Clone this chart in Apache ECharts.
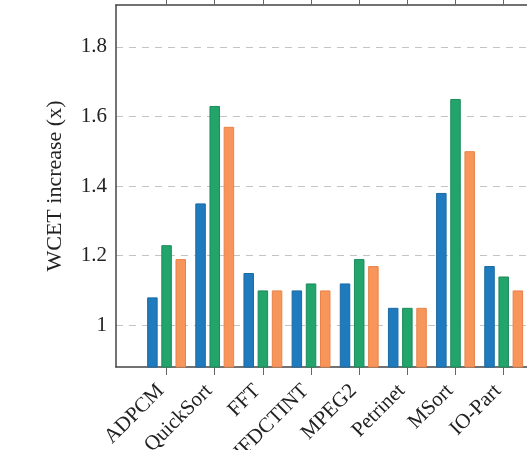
<!DOCTYPE html>
<html>
<head>
<meta charset="utf-8">
<script src="https://cdn.jsdelivr.net/npm/echarts@6/dist/echarts.min.js"></script>
<style>
  * { margin: 0; padding: 0; }
  html, body { background: #fff; }
  #wcetChart { width: 527px; height: 450px; }
</style>
</head>
<body>
<div id="wcetChart"></div>
<script>
const categories = ["ADPCM", "QuickSort", "FFT", "IFDCTINT", "MPEG2", "Petrinet", "MSort", "IO-Part"];
const blueValues = [1.08, 1.35, 1.15, 1.10, 1.12, 1.05, 1.38, 1.17];
const greenValues = [1.23, 1.63, 1.10, 1.12, 1.19, 1.05, 1.65, 1.14];
const orangeValues = [1.19, 1.57, 1.10, 1.10, 1.17, 1.05, 1.50, 1.10];
const yTicks = [1, 1.2, 1.4, 1.6, 1.8];

const dom = document.getElementById("wcetChart");
const myChart = echarts.init(dom, null, { renderer: "canvas" });

const font = "Liberation Serif";
const catIdx = categories.map((_, i) => i);
const toPairs = (vals) => vals.map((v, i) => [i, v]);

const barSeries = (name, vals, fill, edge) => ({
  name: name,
  type: "bar",
  barWidth: 10.5,
  barGap: "35%",
  itemStyle: { color: fill, borderColor: edge, borderWidth: 1 },
  data: toPairs(vals),
});

// plot runs past the right edge of the picture (cropped figure)
const xAxisBase = (pos) => ({
  type: "value",
  position: pos,
  min: -1.05,
  max: 9,
  axisLine: { show: true, onZero: false, lineStyle: { color: "#444", width: 1.5 } },
  axisTick: {
    show: true,
    customValues: catIdx,
    length: 8,
    lineStyle: { color: "#666", width: 1 },
  },
  splitLine: { show: false },
});

const option = {
  animation: false,
  grid: { left: 116, top: 5, width: 484, height: 362, outerBoundsMode: "none" },
  xAxis: [
    Object.assign(xAxisBase("bottom"), {
      axisLabel: {
        customValues: catIdx,
        formatter: (v) => categories[Math.round(v)] || "",
        rotate: 45,
        margin: 15,
        padding: [0, 8, 0, 0],
        color: "#222",
        fontFamily: font,
        fontSize: 21,
      },
    }),
    Object.assign(xAxisBase("top"), { axisLabel: { show: false } }),
  ],
  yAxis: {
    type: "value",
    min: 0.88,
    max: 1.92,
    name: "WCET increase (x)",
    nameLocation: "middle",
    nameRotate: 90,
    nameGap: 50,
    nameTextStyle: { color: "#222", fontFamily: font, fontSize: 22 },
    axisLine: { show: true, onZero: false, lineStyle: { color: "#444", width: 1.5 } },
    axisTick: { show: false, customValues: yTicks },
    axisLabel: {
      customValues: yTicks,
      formatter: (v) => (Math.abs(v - 1) < 1e-9 ? "1" : v.toFixed(1)),
      margin: 9,
      color: "#222",
      fontFamily: font,
      fontSize: 21,
    },
    splitLine: {
      show: true,
      lineStyle: { color: "#c4c4c4", type: [7, 6], width: 1.2 },
    },
  },
  series: [
    barSeries("blue", blueValues, "#1f7bbd", "#1a6aa3"),
    barSeries("green", greenValues, "#22a46b", "#1b8c5b"),
    barSeries("orange", orangeValues, "#f8955a", "#e8834a"),
  ],
};

myChart.setOption(option);
</script>
</body>
</html>
